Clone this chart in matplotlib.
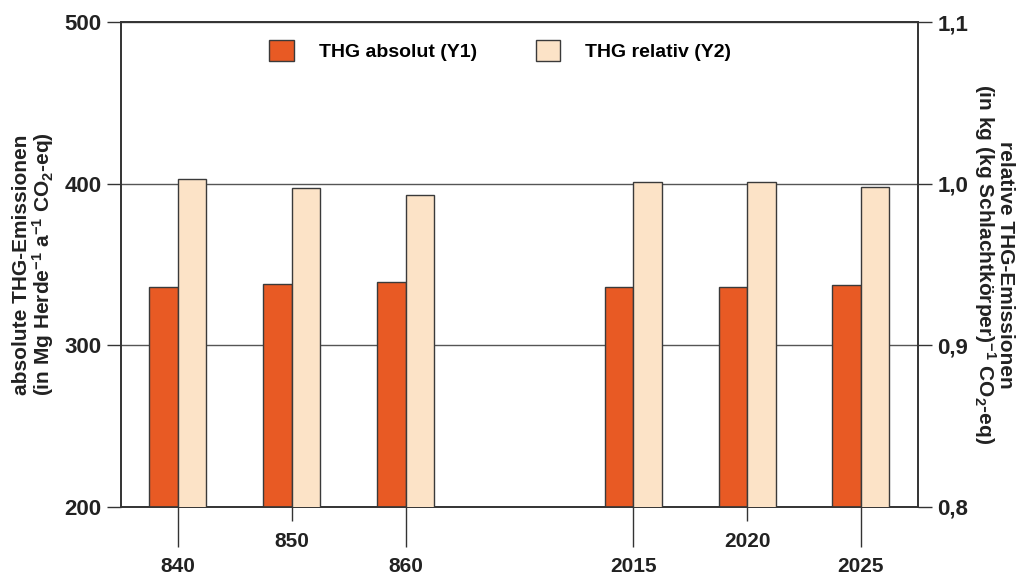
import matplotlib
matplotlib.use('Agg')
import matplotlib.pyplot as plt
import numpy as np

# Daten
categories = ['840', '850', '860', '2015', '2020', '2025']
positions = [0, 1, 2, 4, 5, 6]  # Luecke zwischen 860 und 2015
thg_absolut = [335.8, 337.7, 338.9, 336.0, 336.0, 337.5]   # Mg Herde-1 a-1
thg_relativ = [1.003, 0.9975, 0.993, 1.001, 1.001, 0.998]  # kg (kg SK)-1
long_tick = [True, False, True, True, False, True]

plt.rcParams['font.family'] = ['Liberation Sans', 'DejaVu Sans']
plt.rcParams['mathtext.fontset'] = 'custom'
plt.rcParams['mathtext.rm'] = 'Liberation Sans:bold'
plt.rcParams['mathtext.it'] = 'Liberation Sans:bold:italic'
plt.rcParams['mathtext.bf'] = 'Liberation Sans:bold'

red = '#E85A24'
cream = '#FCE3C7'
edge = '#3a3a3a'
axcol = '#333333'
txtcol = '#222222'

fig = plt.figure(figsize=(10.21, 5.79), dpi=100)
ax1 = fig.add_axes([0.1185, 0.1244, 0.7805, 0.8376])
ax2 = ax1.twinx()

w = 0.25
x = np.array(positions, dtype=float)
ax1.bar(x - w / 2, thg_absolut, width=w, color=red, edgecolor=edge,
        linewidth=1.0, label='THG absolut (Y1)', zorder=3)
ax2.bar(x + w / 2, thg_relativ, width=w, color=cream, edgecolor=edge,
        linewidth=1.0, label='THG relativ (Y2)', zorder=3)

ax1.set_xlim(-0.5, 6.5)
ax1.set_ylim(200, 500)
ax2.set_ylim(0.8, 1.1)

ax1.set_yticks([200, 300, 400, 500])
ax2.set_yticks([0.8, 0.9, 1.0, 1.1])
ax2.set_yticklabels(['0,8', '0,9', '1,0', '1,1'])

ax1.grid(axis='y', color='#555555', linewidth=1.0, zorder=0)
ax1.set_axisbelow(True)

for a in (ax1, ax2):
    for s in a.spines.values():
        s.set_color(axcol)
        s.set_linewidth(1.2)
    a.tick_params(axis='y', direction='out', length=10, width=1.0,
                  colors=axcol, labelsize=16, pad=4)
    for lab in a.get_yticklabels():
        lab.set_fontweight('bold')
        lab.set_color(txtcol)

# x-Achse: lange Striche als Major-, kurze als Minor-Ticks
major_pos = [p for p, l in zip(positions, long_tick) if l]
major_lab = [c for c, l in zip(categories, long_tick) if l]
minor_pos = [p for p, l in zip(positions, long_tick) if not l]
minor_lab = [c for c, l in zip(categories, long_tick) if not l]
ax1.set_xticks(major_pos, major_lab)
ax1.set_xticks(minor_pos, minor_lab, minor=True)
ax1.tick_params(axis='x', which='major', direction='out', length=29, width=1.0,
                colors=axcol, labelcolor=txtcol, labelsize=15, pad=7)
ax1.tick_params(axis='x', which='minor', direction='out', length=10, width=1.0,
                colors=axcol, labelcolor=txtcol, labelsize=15, pad=8)
for lab in ax1.get_xticklabels(which='both'):
    lab.set_fontweight('bold')

ax1.set_ylabel('absolute THG-Emissionen\n(in Mg Herde$^{-1}$ a$^{-1}$ CO$_2$-eq)',
               fontsize=15, fontweight='bold', color=txtcol, labelpad=6,
               linespacing=0.95)
ax2.set_ylabel('relative THG-Emissionen\n(in kg (kg Schlachtkörper)$^{-1}$ CO$_2$-eq)',
               fontsize=15, fontweight='bold', color=txtcol, rotation=270,
               labelpad=34, linespacing=0.95)

h1, l1 = ax1.get_legend_handles_labels()
h2, l2 = ax2.get_legend_handles_labels()
leg = ax1.legend(h1 + h2, l1 + l2, loc='upper center', bbox_to_anchor=(0.476, 1.0),
                 ncol=2, frameon=False, prop={'weight': 'bold', 'size': 14},
                 handlelength=1.25, handleheight=1.3, handletextpad=1.3,
                 columnspacing=3.0, borderaxespad=0.5)
leg.set_zorder(10)

fig.savefig('out.png', dpi=100, facecolor='white')
